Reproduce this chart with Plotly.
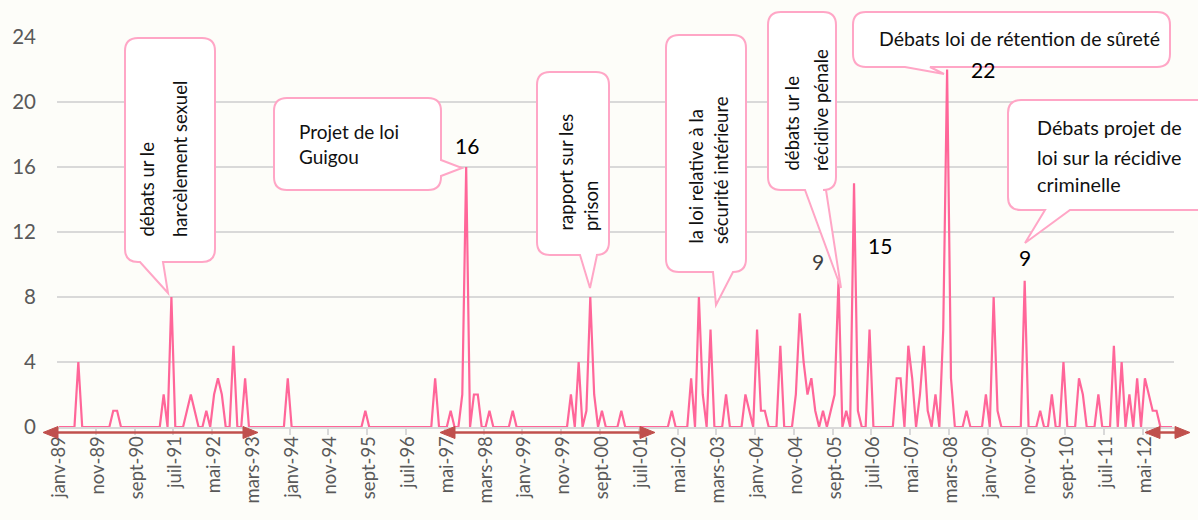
import plotly.graph_objects as go

# ---------------- data ----------------
month_names = ["janv", "févr", "mars", "avr", "mai", "juin",
               "juil", "août", "sept", "oct", "nov", "déc"]
years = list(range(1989, 2013))
categories = [f"{m}-{str(y)[2:]}" for y in years for m in month_names]

counts = [
    0, 0, 0, 0, 0, 4, 0, 0, 0, 0, 0, 0,      # 1989
    0, 0, 1, 1, 0, 0, 0, 0, 0, 0, 0, 0,      # 1990
    0, 0, 0, 2, 0, 8, 0, 0, 0, 1, 2, 1,      # 1991
    0, 0, 1, 0, 2, 3, 2, 0, 0, 5, 0, 0,      # 1992
    3, 0, 0, 0, 0, 0, 0, 0, 0, 0, 0, 3,      # 1993
    0, 0, 0, 0, 0, 0, 0, 0, 0, 0, 0, 0,      # 1994
    0, 0, 0, 0, 0, 0, 0, 1, 0, 0, 0, 0,      # 1995
    0, 0, 0, 0, 0, 0, 0, 0, 0, 0, 0, 0,      # 1996
    0, 3, 0, 0, 0, 1, 0, 0, 2, 16, 0, 2,     # 1997
    2, 0, 0, 1, 0, 0, 0, 0, 0, 1, 0, 0,      # 1998
    0, 0, 0, 0, 0, 0, 0, 0, 0, 0, 0, 0,      # 1999
    2, 0, 4, 0, 1, 8, 2, 0, 1, 0, 0, 0,      # 2000
    0, 1, 0, 0, 0, 0, 0, 0, 0, 0, 0, 0,      # 2001
    0, 0, 1, 0, 0, 0, 0, 3, 0, 8, 2, 0,      # 2002
    6, 0, 0, 0, 2, 0, 0, 0, 0, 2, 1, 0,      # 2003
    6, 1, 1, 0, 0, 0, 5, 0, 0, 0, 2, 7,      # 2004
    4, 2, 3, 1, 0, 1, 0, 1, 2, 9, 0, 1,      # 2005
    0, 15, 1, 0, 0, 6, 0, 0, 0, 0, 0, 0,     # 2006
    3, 3, 0, 5, 3, 0, 2, 5, 1, 0, 2, 0,      # 2007
    6, 22, 3, 0, 0, 0, 1, 0, 0, 0, 0, 2,     # 2008
    0, 8, 1, 0, 0, 0, 0, 0, 0, 9, 0, 0,      # 2009
    0, 1, 0, 0, 2, 0, 0, 4, 0, 0, 0, 3,      # 2010
    2, 0, 0, 0, 2, 0, 0, 0, 5, 0, 4, 0,      # 2011
    2, 0, 3, 0, 3, 2, 1, 1, 0, 0, 0, 0,      # 2012
]

tick_labels = ["janv-89", "nov-89", "sept-90", "juil-91", "mai-92", "mars-93",
               "janv-94", "nov-94", "sept-95", "juil-96", "mai-97", "mars-98",
               "janv-99", "nov-99", "sept-00", "juil-01", "mai-02", "mars-03",
               "janv-04", "nov-04", "sept-05", "juil-06", "mai-07", "mars-08",
               "janv-09", "nov-09", "sept-10", "juil-11", "mai-12"]

y_ticks = [0, 4, 8, 12, 16, 20, 24]

# peak labels: (category, value, text, xshift, yshift, color)
peak_labels = [
    ("oct-97", 16, "16", 1, 22, "#000000"),
    ("févr-08", 22, "22", 36, 0, "#000000"),
    ("févr-06", 15, "15", 26, -62, "#000000"),
    ("oct-05", 9, "9", -21, 19, "#404040"),
    ("oct-09", 9, "9", 0, 23, "#000000"),
]

# ---------------- layout helpers ----------------
FW, FH = 1198, 520
L, R, T, B = 57, 24, 37, 93
PW, PH = FW - L - R, FH - T - B
FONT = "Lato, Carlito, Calibri, 'Open Sans', sans-serif"
PINK = "#ff6699"
CALLOUT = "#ffa6c6"
ARROW = "#c0504d"
BG = "#fdfdf9"


def px(x):  # screen pixel -> paper
    return (x - L) / PW


def py(y):
    return (FH - B - y) / PH


def P(x, y):
    return f"{px(x):.5f},{py(y):.5f}"


def callout(x0, y0, x1, y1, b1, b2, tip, r=13, side="bottom"):
    tx, ty = tip
    d = f"M {P(x0 + r, y0)} L {P(x1 - r, y0)} Q {P(x1, y0)} {P(x1, y0 + r)} "
    if side == "right":
        d += f"L {P(x1, b1)} L {P(tx, ty)} L {P(x1, b2)} "
    d += f"L {P(x1, y1 - r)} Q {P(x1, y1)} {P(x1 - r, y1)} "
    if side == "bottom":
        d += f"L {P(b2, y1)} L {P(tx, ty)} L {P(b1, y1)} "
    d += f"L {P(x0 + r, y1)} Q {P(x0, y1)} {P(x0, y1 - r)} "
    d += f"L {P(x0, y0 + r)} Q {P(x0, y0)} {P(x0 + r, y0)} Z"
    return dict(type="path", xref="paper", yref="paper", path=d,
                fillcolor="white", line=dict(color=CALLOUT, width=2), layer="above")


def double_arrow(xa, xb, y, head=15, half=6):
    shapes = []
    shapes.append(dict(type="line", xref="paper", yref="paper",
                       x0=px(xa + head - 3), x1=px(xb - head + 3), y0=py(y), y1=py(y),
                       line=dict(color=ARROW, width=2.5), layer="above"))
    for tipx, basex in ((xa, xa + head), (xb, xb - head)):
        d = f"M {P(tipx, y)} L {P(basex, y - half)} L {P(basex, y + half)} Z"
        shapes.append(dict(type="path", xref="paper", yref="paper", path=d,
                           fillcolor=ARROW, line=dict(color=ARROW, width=1), layer="above"))
    return shapes


fig = go.Figure()
fig.add_trace(go.Scatter(x=categories, y=counts, mode="lines",
                         line=dict(color=PINK, width=2.2), hoverinfo="x+y",
                         showlegend=False))

shapes = []
shapes.append(callout(125, 38, 215, 262, 140, 163, (168, 293)))
shapes.append(callout(274, 98, 441, 190, 160, 176, (462, 168), side="right"))
shapes.append(callout(537, 72, 609, 255, 580, 597, (590, 288)))
shapes.append(callout(666, 35, 746, 272, 713, 733, (716, 305)))
shapes.append(callout(768, 12, 836, 190, 805, 826, (841, 288)))
shapes.append(callout(853, 12, 1170, 67, 905, 930, (944, 74)))
shapes.append(callout(1008, 100, 1230, 210, 1045, 1070, (1025, 243)))
shapes += double_arrow(43, 258, 432.5)
shapes += double_arrow(440, 655, 432.5)
shapes += double_arrow(1145, 1190, 432.5)

annotations = []


def txt(text, x, y, angle=0, xanchor="center", yanchor="middle", size=18.5, align="left"):
    annotations.append(dict(text=text, xref="paper", yref="paper", x=px(x), y=py(y),
                            xanchor=xanchor, yanchor=yanchor, textangle=angle,
                            showarrow=False, align=align,
                            font=dict(family=FONT, size=size, color="#111111")))


# rotated (reading upwards) callout lines: text, x centre, bottom y
for t, x, yb in [("débats ur le", 147, 239), ("harcèlement sexuel", 180, 239),
                 ("rapport sur les", 565, 233), ("prison", 591, 233),
                 ("la loi relative à la", 695, 246), ("sécurité intérieure", 721, 246),
                 ("débats ur le", 791, 173), ("récidive pénale", 821, 173)]:
    txt(t, x, yb, angle=-90, yanchor="bottom")

# horizontal callout text
txt("Projet de loi<br>Guigou", 297, 144, xanchor="left", size=19)
for t, x, yc in [("Débats projet de", 1035, 127), ("loi sur la récidive", 1035, 157),
                 ("criminelle", 1035, 184)]:
    txt(t, x, yc, xanchor="left", size=19.8)
txt("Débats loi de rétention de sûreté", 1019, 38, size=19.5)

for cat, val, t, xs, ys, col in peak_labels:
    annotations.append(dict(text=t, x=cat, y=val, xref="x", yref="y", showarrow=False,
                            xshift=xs, yshift=ys, xanchor="center", yanchor="middle",
                            font=dict(family=FONT, size=21, color=col)))

fig.update_layout(
    width=FW, height=FH,
    margin=dict(l=L, r=R, t=T, b=B, pad=0),
    paper_bgcolor=BG, plot_bgcolor=BG,
    font=dict(family=FONT, color="#595959"),
    shapes=shapes, annotations=annotations,
    showlegend=False,
)
fig.update_xaxes(type="category", categoryorder="array", categoryarray=categories,
                 range=[-0.5, len(categories) - 0.5],
                 tickmode="array", tickvals=tick_labels, ticktext=tick_labels,
                 tickangle=-90, tickfont=dict(size=18.5, color="#595959", family=FONT),
                 ticks="outside", ticklen=6, tickcolor="#d9d9d9", tickwidth=1.5,
                 tickson="boundaries",
                 showgrid=False, showline=True, linecolor="#d9d9d9", linewidth=1.5,
                 zeroline=False, fixedrange=True)
fig.update_yaxes(range=[0, 24], tickmode="array", tickvals=y_ticks,
                 tickfont=dict(size=20.5, color="#595959", family=FONT),
                 showgrid=True, gridcolor="#d9d9d9", gridwidth=1.5,
                 zeroline=False, showline=False, ticks="", ticklabelstandoff=20,
                 fixedrange=True)

# remove the default 8px page margin so the figure fills the window exactly
fig.write_html("out.html", config={"displayModeBar": False},
               post_script="document.body.style.margin='0';document.body.style.overflow='hidden';")
